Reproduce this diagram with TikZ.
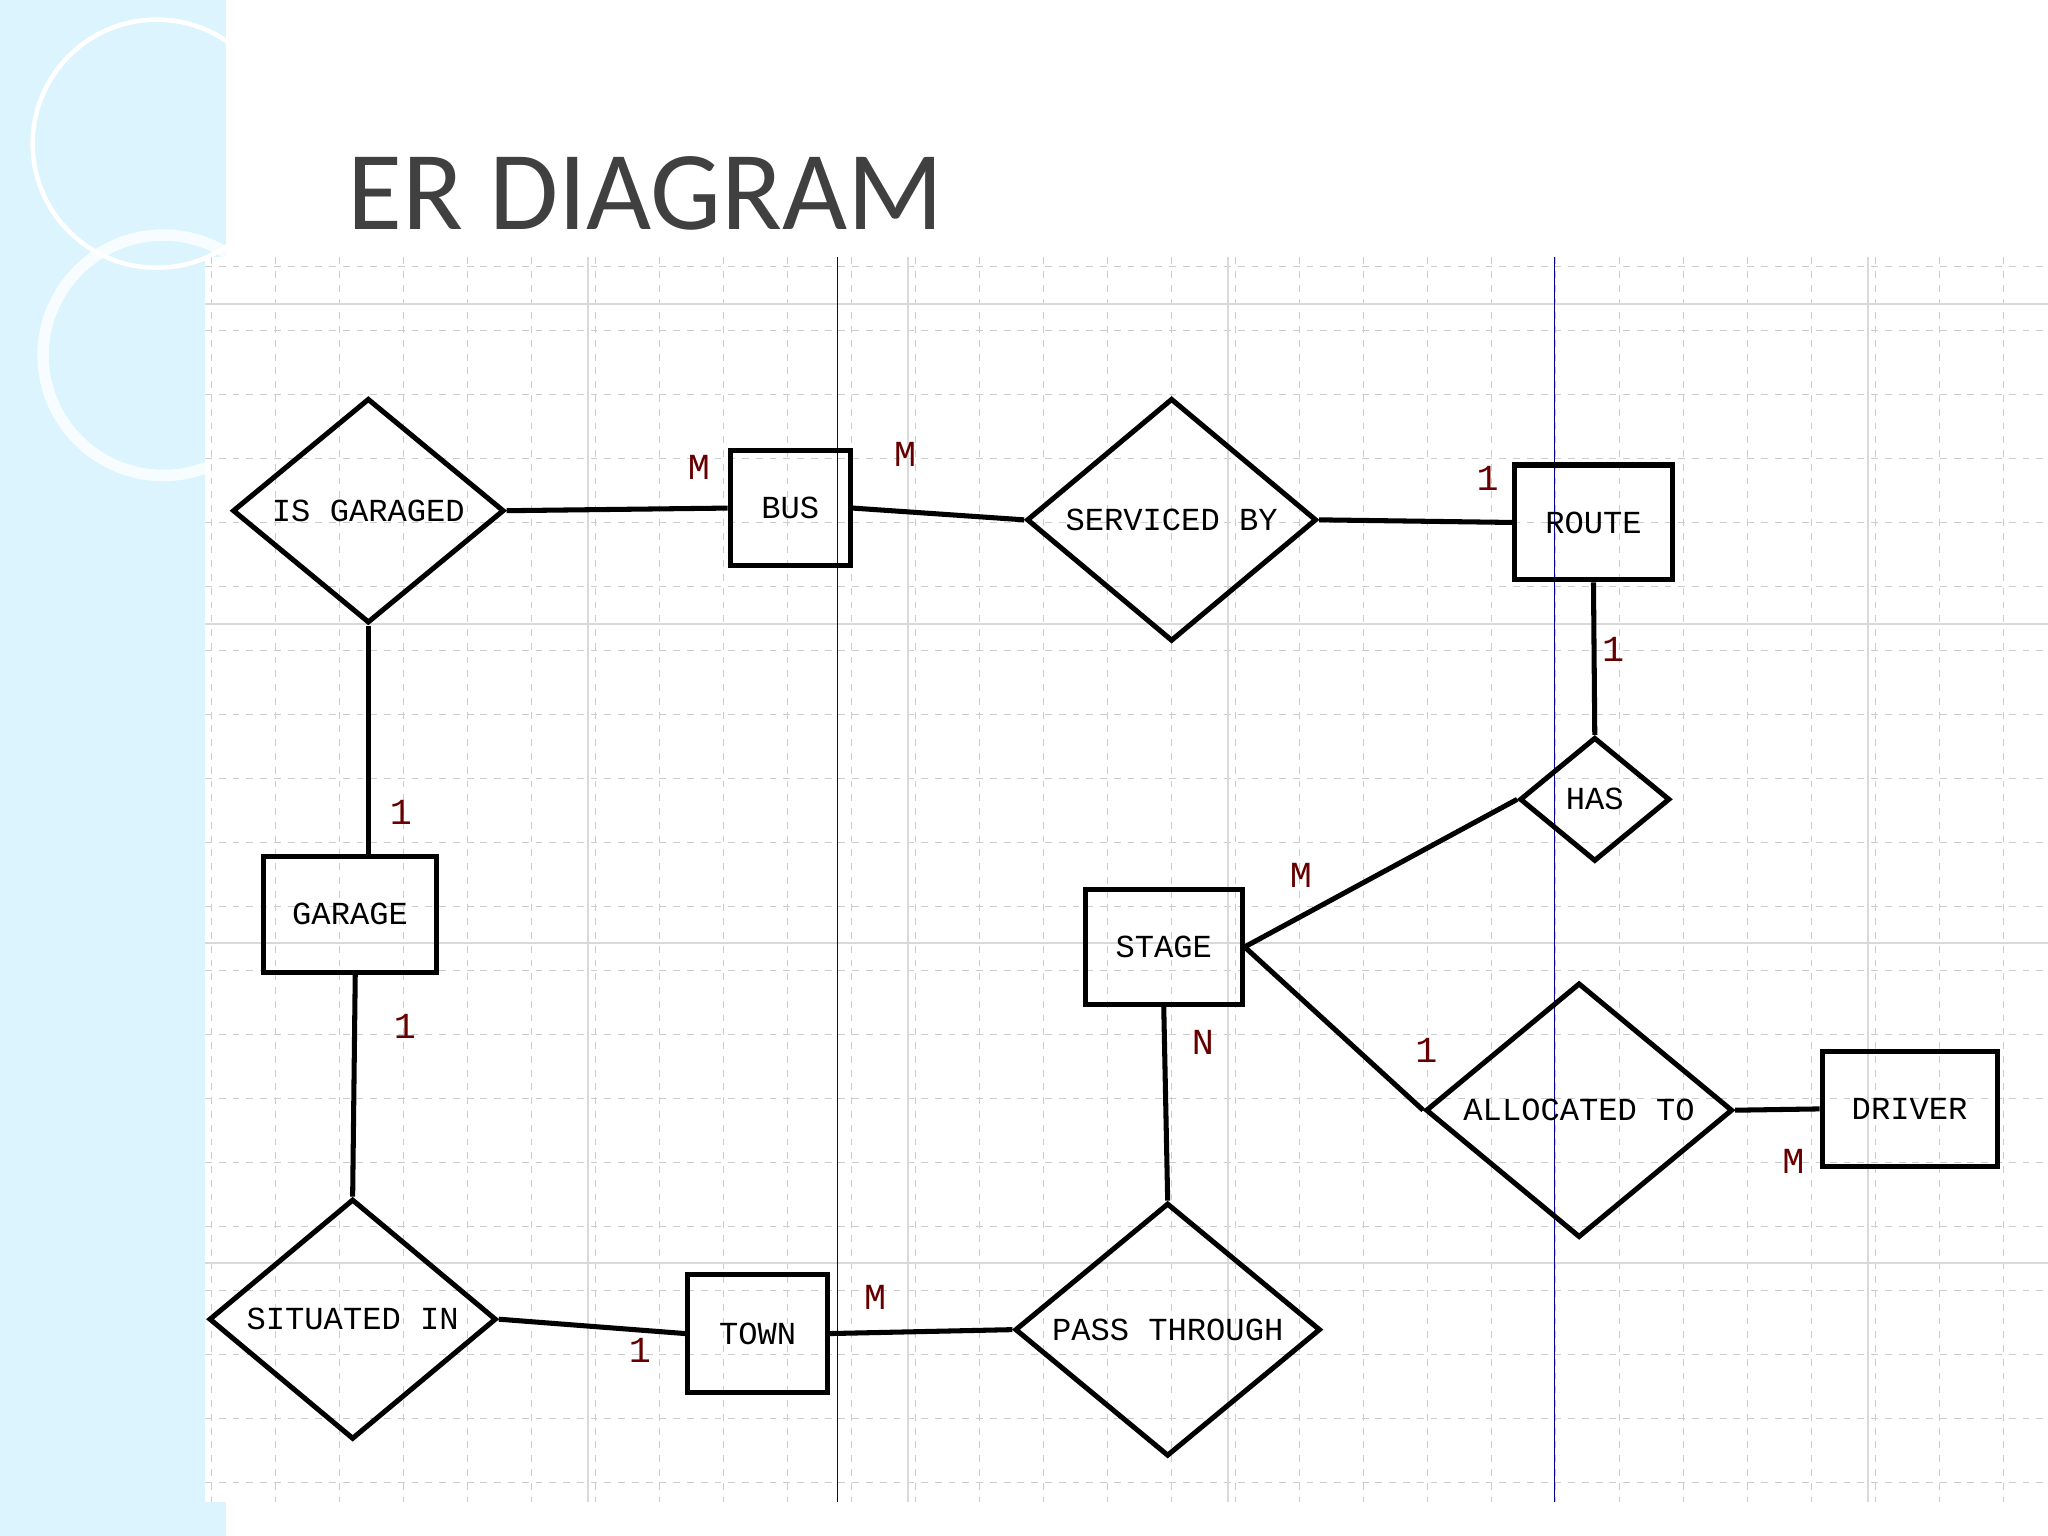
\documentclass[tikz,border=0pt]{standalone}
\usepackage{fontspec}
\setmainfont{Liberation Mono}
\newfontfamily\titlefont{Carlito}
\usetikzlibrary{shapes.geometric}
\begin{document}
\begin{tikzpicture}[x=0.02cm,y=-0.02cm,
  ent/.style={draw,line width=2.2pt,rectangle,inner sep=0pt,font=\fontsize{14}{14}\selectfont},
  rel/.style={draw,line width=2.2pt,diamond,inner sep=0pt,font=\fontsize{14}{14}\selectfont},
  con/.style={line width=2.2pt},
  card/.style={font=\fontsize{16}{16}\selectfont,text=red!40!black}]
\useasboundingbox (0,0) rectangle (1568,1176);
\fill[white] (0,0) rectangle (1568,1176);
\fill[cyan!14!white] (0,0) rectangle (173,1176);
\draw[white,line width=2pt] (120,110) circle (95);
\draw[white,line width=5pt,opacity=0.8] (125,272) circle (92);
\fill[white] (157,197) rectangle (1568,1150);
% grid
\foreach \x in {162,211,...,1568} \draw[gray!40,dashed] (\x,197) -- (\x,1150);
\foreach \y in {204,253,...,1150} \draw[gray!40,dashed] (157,\y) -- (1568,\y);
\foreach \x in {450,695,940,1430} \draw[gray!30,line width=1pt] (\x,197) -- (\x,1150);
\foreach \y in {233,478,722,967} \draw[gray!30,line width=1pt] (157,\y) -- (1568,\y);
\draw[blue!60!black] (641,197) -- (641,1150);
\draw[blue!60!black] (1190,197) -- (1190,1150);
\node[font=\titlefont\fontsize{49}{49}\selectfont,text=black!75,anchor=west] at (260,148) {ER DIAGRAM};
% nodes
\node[rel,minimum width=4.16cm,minimum height=3.44cm] (isg) at (282,391) {IS GARAGED};
\node[ent,minimum width=1.84cm,minimum height=1.76cm] (bus) at (605,389) {BUS};
\node[rel,minimum width=4.44cm,minimum height=3.72cm] (svc) at (897,398) {SERVICED BY};
\node[ent,minimum width=2.42cm,minimum height=1.76cm] (route) at (1220,400) {ROUTE};
\node[rel,minimum width=2.3cm,minimum height=1.9cm] (has) at (1221,612) {HAS};
\node[ent,minimum width=2.4cm,minimum height=1.76cm] (stage) at (891,725) {STAGE};
\node[ent,minimum width=2.66cm,minimum height=1.78cm] (garage) at (268,700) {GARAGE};
\node[rel,minimum width=4.7cm,minimum height=3.9cm] (alloc) at (1209,850) {ALLOCATED TO};
\node[ent,minimum width=2.68cm,minimum height=1.76cm] (driver) at (1462,849) {DRIVER};
\node[rel,minimum width=4.4cm,minimum height=3.68cm] (sit) at (270,1010) {SITUATED IN};
\node[ent,minimum width=2.14cm,minimum height=1.8cm] (town) at (580,1021) {TOWN};
\node[rel,minimum width=4.68cm,minimum height=3.84cm] (pass) at (894,1018) {PASS THROUGH};
% connectors
\draw[con] (isg.east) -- (bus.west);
\draw[con] (bus.east) -- (svc.west);
\draw[con] (svc.east) -- (route.west);
\draw[con] (route.south) -- (has.north);
\draw[con] (has.west) -- (stage.east);
\draw[con] (stage.east) -- (alloc.west);
\draw[con] (alloc.east) -- (driver.west);
\draw[con] (isg.south) -- (isg.south |- garage.north);
\draw[con] (272,745) -- (sit.north);
\draw[con] (sit.east) -- (town.west);
\draw[con] (town.east) -- (pass.west);
\draw[con] (stage.south) -- (pass.north);
% cardinalities
\node[card] at (535,358) {M};
\node[card] at (693,348) {M};
\node[card] at (1139,366) {1};
\node[card] at (1235,497) {1};
\node[card] at (996,670) {M};
\node[card] at (1092,804) {1};
\node[card] at (1373,889) {M};
\node[card] at (307,622) {1};
\node[card] at (310,786) {1};
\node[card] at (490,1034) {1};
\node[card] at (670,993) {M};
\node[card] at (921,798) {N};
\end{tikzpicture}
\end{document}
